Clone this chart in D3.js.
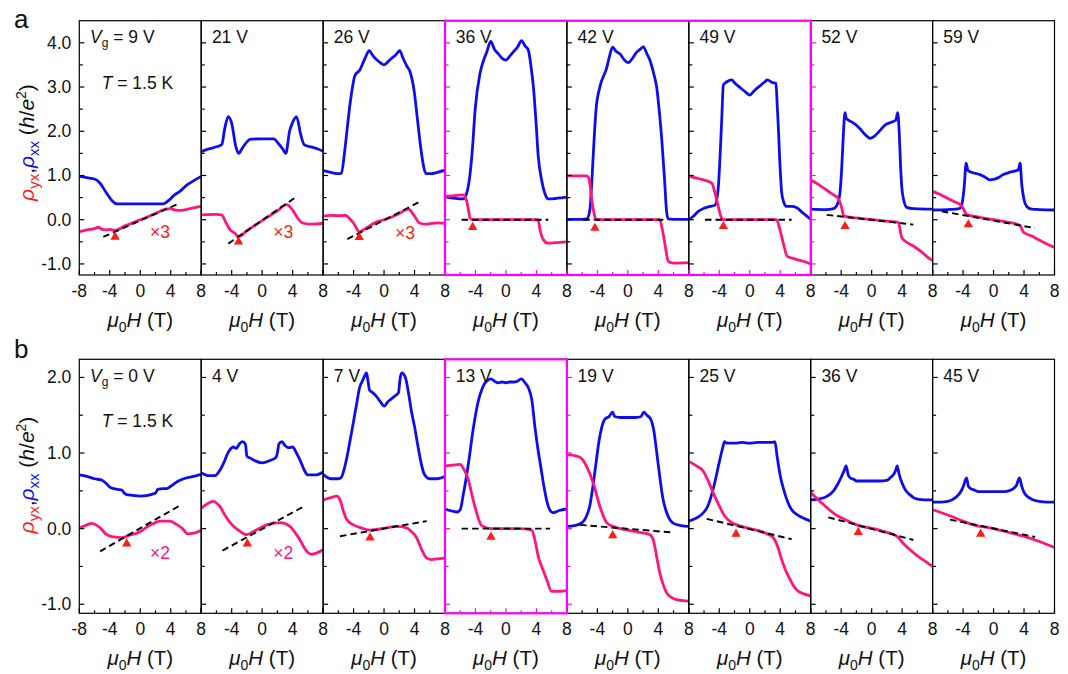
<!DOCTYPE html>
<html>
<head>
<meta charset="utf-8">
<script src="https://cdn.jsdelivr.net/npm/d3@7"></script>
<style>
  body { margin: 0; background: #fff; }
  svg { font-family: Arial, "Liberation Sans", sans-serif; }
</style>
</head>
<body>
<svg id="chart" width="1068" height="674"></svg>
<script>
// ---- data: [field (T), value (h/e^2)] ----
const fieldTicks = [-8, -4, 0, 4, 8];
const yTicksA = [-1, 0, 1, 2, 3, 4];
const yTicksB = [-1, 0, 1, 2];

const gatesA = ["9 V", "21 V", "26 V", "36 V", "42 V", "49 V", "52 V", "59 V"];
const gatesB = ["0 V", "4 V", "7 V", "13 V", "19 V", "25 V", "36 V", "45 V"];

// row a, rho_xx
const rhoXXa = [
  [[-8,0.98],[-7,0.95],[-6,0.92],[-5.3,0.83],[-4.5,0.62],[-3.8,0.45],[-3.3,0.37],[-3,0.36],[0,0.36],[3,0.36],[3.3,0.38],[3.9,0.46],[4.5,0.56],[5.2,0.64],[6.1,0.78],[7.2,0.9],[8,0.98]],
  [[-8,1.54],[-7,1.6],[-6,1.65],[-5.3,1.7],[-4.9,2.07],[-4.45,2.33],[-4,2.18],[-3.45,1.65],[-3.1,1.5],[-2.6,1.62],[-2,1.76],[-1.5,1.82],[0,1.83],[1.5,1.83],[2.1,1.73],[2.7,1.6],[3.1,1.5],[3.6,2.0],[4.0,2.2],[4.5,2.33],[5.1,1.9],[5.5,1.7],[6.5,1.64],[7.3,1.6],[8,1.55]],
  [[-8,1.11],[-7,1.07],[-6,1.04],[-5.6,1.05],[-5.2,1.5],[-4.9,1.96],[-4.4,2.7],[-3.8,3.27],[-3.2,3.38],[-2.5,3.65],[-1.95,3.82],[-1.5,3.72],[-1,3.62],[-0.5,3.55],[0,3.5],[0.5,3.57],[1,3.65],[1.5,3.72],[2.05,3.82],[2.5,3.65],[3,3.47],[3.4,3.35],[4,2.85],[4.3,2.4],[4.8,1.65],[5.2,1.2],[5.5,1.04],[6.2,1.04],[7,1.07],[8,1.12]],
  [[-8,0.51],[-7,0.49],[-5.6,0.47],[-5.15,0.6],[-4.75,0.98],[-4.4,1.6],[-4.05,2.48],[-3.4,3.31],[-2.9,3.62],[-2.5,3.8],[-2,4.03],[-1.5,3.85],[-1,3.75],[-0.5,3.65],[0,3.61],[0.5,3.7],[1,3.8],[1.5,3.9],[2.05,4.05],[2.5,3.93],[2.93,3.84],[3.3,3.45],[3.6,3.01],[3.95,2.2],[4.24,1.43],[4.68,0.9],[5.1,0.6],[5.56,0.47],[6.5,0.48],[7.5,0.5],[8,0.51]],
  [[-8,0.01],[-6,0.01],[-5.4,0.02],[-5.0,0.2],[-4.75,0.8],[-4.5,1.6],[-4.18,2.48],[-3.66,3.01],[-2.8,3.42],[-2.4,3.7],[-2.0,3.9],[-1.5,3.8],[-1.03,3.75],[-0.5,3.62],[0.06,3.55],[0.6,3.65],[1.16,3.79],[1.6,3.85],[2.03,3.91],[2.5,3.75],[2.91,3.6],[3.4,3.3],[3.78,3.0],[4.1,2.5],[4.44,1.84],[4.8,0.95],[5.1,0.16],[5.3,0.02],[6,0.01],[8,0.01]],
  [[-8,0.0],[-7.4,0.08],[-6.75,0.19],[-6,0.26],[-5.2,0.3],[-4.56,0.33],[-4.12,0.75],[-3.88,1.5],[-3.68,2.26],[-3.46,3.05],[-3,3.12],[-2.37,3.16],[-2,3.1],[-1.5,3.02],[-1,2.95],[-0.5,2.88],[0,2.82],[0.5,2.9],[1,2.98],[1.5,3.05],[2,3.12],[2.3,3.16],[3,3.1],[3.45,3.08],[3.6,2.6],[3.75,2.1],[3.95,1.3],[4.2,0.6],[4.5,0.38],[4.85,0.3],[5.5,0.3],[6.16,0.27],[7,0.15],[8,0.01]],
  [[-8,0.24],[-6,0.23],[-5,0.25],[-4.5,0.35],[-4.2,0.55],[-3.95,1.1],[-3.75,1.8],[-3.5,2.42],[-3.33,2.29],[-2.5,2.2],[-1.96,2.13],[-1.5,2.05],[-1,1.95],[-0.5,1.87],[-0.2,1.84],[0.3,1.88],[1,2.0],[1.75,2.14],[2.5,2.2],[3.16,2.25],[3.42,2.42],[3.63,1.93],[3.8,1.2],[3.95,0.75],[4.2,0.45],[4.6,0.28],[5.5,0.25],[7,0.24],[8,0.24]],
  [[-8,0.22],[-6,0.23],[-5,0.24],[-4.4,0.26],[-4.1,0.4],[-3.85,0.75],[-3.6,1.28],[-3.35,1.11],[-3,1.08],[-1.78,1.02],[-1,0.95],[-0.47,0.9],[0,0.91],[0.5,0.94],[1.28,1.02],[2.3,1.08],[3.25,1.13],[3.48,1.28],[3.7,0.8],[4.0,0.45],[4.35,0.3],[5,0.24],[6,0.23],[8,0.22]]
];

// row a, rho_yx
const rhoYXa = [
  [[-8,-0.27],[-7,-0.23],[-6,-0.2],[-5.5,-0.17],[-5,-0.22],[-4.5,-0.23],[-4,-0.22],[-3.3,-0.24],[-2,-0.14],[0,0.0],[2,0.14],[3.3,0.24],[4,0.25],[4.5,0.22],[5,0.21],[6,0.23],[7,0.27],[8,0.3]],
  [[-8,0.11],[-6,0.12],[-5.3,0.11],[-4.8,-0.05],[-4.2,-0.23],[-3.6,-0.3],[-3.1,-0.38],[-2,-0.25],[0,-0.02],[2,0.2],[3.2,0.34],[4,0.22],[4.6,0.05],[5.4,-0.08],[6.5,-0.1],[8,-0.08]],
  [[-8,0.08],[-7,0.1],[-6,0.09],[-5,0.1],[-4.5,0.02],[-4,-0.08],[-3.25,-0.27],[-2,-0.15],[-1,-0.05],[0,0.0],[1,0.06],[2,0.14],[3.2,0.24],[4,0.08],[4.7,-0.08],[5.6,-0.1],[7,-0.07],[8,-0.08]],
  [[-8,0.53],[-7,0.54],[-5.6,0.56],[-5.15,0.42],[-4.9,0.2],[-4.7,0.03],[-4.4,0.0],[0,0.0],[4.2,0.0],[4.5,-0.25],[4.9,-0.45],[5.5,-0.53],[6.5,-0.52],[8,-0.5]],
  [[-8,0.99],[-6,0.99],[-5.4,0.99],[-5.1,0.93],[-4.9,0.7],[-4.7,0.4],[-4.5,0.2],[-4.3,0.05],[-4.1,0.0],[0,0.0],[4.2,0.0],[4.5,-0.2],[4.85,-0.53],[5.1,-0.8],[5.35,-0.95],[6,-0.98],[8,-0.97]],
  [[-8,0.99],[-7.84,0.98],[-6.5,0.92],[-5.0,0.83],[-4.34,0.45],[-3.68,0.03],[-3.46,0.0],[0,0.0],[3.5,0.0],[4.0,-0.25],[4.4,-0.53],[4.93,-0.83],[6,-0.89],[7.03,-0.94],[8,-1.0]],
  [[-8,0.9],[-7,0.8],[-6,0.68],[-5,0.56],[-4.42,0.49],[-3.98,0.3],[-3.63,0.08],[-2,0.04],[0,0.0],[2,-0.03],[3.5,-0.06],[3.94,-0.4],[4.6,-0.51],[5.5,-0.6],[6.5,-0.72],[7.66,-0.89],[8,-0.92]],
  [[-8,0.64],[-7,0.57],[-6,0.48],[-5.28,0.42],[-4.18,0.31],[-3.52,0.12],[-2,0.06],[0,0.0],[2,-0.06],[3.48,-0.13],[3.91,-0.28],[5,-0.37],[6,-0.46],[7,-0.55],[8,-0.63]]
];

// row a, dashed linear fits [H1, v1, H2, v2] and triangle markers [H, v]
const fitA = [[-4.85,-0.39,5.0,0.36],[-4.44,-0.54,4.41,0.51],[-4.82,-0.44,4.72,0.41],[-5.82,0,5.56,0],[-5.85,0,5.1,0],[-5.87,0,5.5,0],[-5.9,0.11,5.47,-0.11],[-6.8,0.19,5.45,-0.19]];
const markA = [[-3.3,-0.39],[-3.1,-0.5],[-3.25,-0.4],[-4.37,-0.17],[-4.33,-0.19],[-3.46,-0.15],[-3.5,-0.15],[-3.31,-0.11]];
const factorA = [["×3",1.28,-0.27],["×3",1.47,-0.27],["×3",1.44,-0.3]];

// row b, rho_xx
const rhoXXb = [
  [[-8,0.71],[-7,0.69],[-6,0.66],[-5,0.64],[-4.5,0.6],[-4,0.55],[-3.5,0.53],[-3,0.52],[-2.4,0.51],[-2.1,0.47],[-1.8,0.45],[-1,0.44],[0,0.43],[1,0.44],[1.7,0.46],[2.0,0.47],[2.3,0.52],[3,0.53],[3.5,0.53],[4,0.56],[5,0.63],[6,0.67],[7,0.69],[8,0.72]],
  [[-8,0.74],[-7,0.7],[-6.2,0.7],[-5.5,0.78],[-5,0.88],[-4.6,0.98],[-4.1,1.06],[-3.8,1.08],[-3.4,1.06],[-3.0,1.12],[-2.6,1.15],[-2.2,1.12],[-2.0,0.96],[-1.5,0.93],[-1,0.9],[0,0.87],[1,0.9],[1.8,0.94],[2.0,1.0],[2.2,1.12],[2.6,1.15],[3.0,1.1],[3.5,1.07],[4.0,1.08],[4.5,1.0],[5.0,0.9],[5.5,0.78],[6.0,0.71],[7,0.71],[8,0.75]],
  [[-8,0.72],[-7.5,0.68],[-7,0.66],[-6,0.66],[-5.6,0.68],[-5.2,0.8],[-4.8,0.98],[-4.4,1.2],[-4,1.42],[-3.6,1.65],[-3.2,1.87],[-2.8,1.96],[-2.3,2.06],[-2.1,1.95],[-1.9,1.83],[-1.5,1.8],[-1,1.75],[-0.5,1.68],[0,1.62],[0.5,1.68],[1,1.72],[1.5,1.76],[1.9,1.8],[2.1,1.98],[2.3,2.06],[2.8,2.0],[3.2,1.8],[3.6,1.55],[4,1.35],[4.4,1.12],[4.8,0.9],[5.2,0.74],[5.6,0.68],[6,0.66],[7,0.66],[8,0.69]],
  [[-8,0.26],[-7,0.23],[-6.4,0.22],[-6,0.25],[-5.6,0.45],[-5.2,0.68],[-4.8,0.95],[-4.4,1.25],[-4,1.5],[-3.6,1.7],[-3.2,1.83],[-2.8,1.92],[-2.4,1.96],[-2,1.98],[-1.5,1.95],[-1,1.93],[-0.5,1.94],[0,1.93],[0.5,1.94],[1,1.94],[1.5,1.95],[2,1.98],[2.5,1.93],[3,1.85],[3.4,1.7],[3.8,1.35],[4.2,1.05],[4.6,0.8],[5,0.55],[5.4,0.35],[5.8,0.24],[6.2,0.21],[7,0.24],[8,0.26]],
  [[-8,0.03],[-7,0.04],[-6,0.08],[-5.5,0.15],[-5,0.3],[-4.6,0.55],[-4.2,0.85],[-3.8,1.15],[-3.4,1.35],[-3,1.45],[-2.5,1.48],[-2,1.54],[-1.7,1.48],[-1,1.47],[0,1.47],[1,1.47],[1.7,1.48],[2.1,1.54],[2.5,1.5],[3,1.45],[3.4,1.3],[3.8,1.0],[4.2,0.68],[4.6,0.4],[5,0.24],[5.5,0.12],[6,0.07],[7,0.04],[8,0.03]],
  [[-8,0.1],[-7,0.14],[-6,0.22],[-5.5,0.3],[-5,0.45],[-4.5,0.65],[-4,0.88],[-3.6,1.05],[-3.3,1.15],[-3,1.13],[-2,1.13],[-1,1.14],[0,1.13],[1,1.14],[2,1.14],[3,1.14],[3.3,1.15],[3.6,0.95],[4,0.7],[4.5,0.5],[5,0.35],[5.5,0.25],[6,0.2],[7,0.14],[8,0.1]],
  [[-8,0.38],[-7,0.39],[-6,0.42],[-5,0.5],[-4.5,0.58],[-4,0.68],[-3.6,0.77],[-3.35,0.83],[-3.1,0.72],[-2.8,0.67],[-2.3,0.65],[-2,0.63],[-1,0.63],[0,0.63],[1,0.63],[2,0.64],[2.5,0.68],[2.9,0.72],[3.15,0.77],[3.35,0.83],[3.6,0.72],[4,0.6],[4.5,0.5],[5,0.45],[5.5,0.41],[6,0.39],[7,0.38],[8,0.38]],
  [[-8,0.35],[-7,0.35],[-6,0.36],[-5,0.41],[-4.5,0.46],[-4,0.55],[-3.55,0.67],[-3.3,0.56],[-3,0.53],[-2.5,0.51],[-2,0.49],[0,0.49],[1.5,0.49],[2,0.5],[2.6,0.53],[3,0.57],[3.4,0.67],[3.7,0.56],[4,0.48],[4.5,0.42],[5,0.39],[6,0.36],[7,0.35],[8,0.35]]
];

// row b, rho_yx
const rhoYXb = [
  [[-8,0.01],[-7,0.05],[-6.4,0.07],[-5.8,0.05],[-5.27,0.01],[-4.4,-0.08],[-3.5,-0.11],[-2.43,-0.12],[-1.5,-0.09],[-0.03,-0.04],[1,0.03],[2,0.08],[2.6,0.1],[3.9,0.1],[4.7,0.06],[5.44,0.01],[6.3,-0.07],[7,-0.06],[8,-0.02]],
  [[-8,0.27],[-7,0.34],[-6.4,0.36],[-5.9,0.33],[-5.53,0.29],[-4.9,0.18],[-4.2,0.08],[-3,-0.03],[-2.0,-0.08],[-1,-0.03],[0.6,0.05],[2.34,0.08],[3.65,0.03],[4.3,-0.05],[4.97,-0.15],[5.5,-0.25],[6.06,-0.32],[6.5,-0.34],[7.2,-0.32],[8,-0.28]],
  [[-8,0.38],[-7,0.41],[-6.2,0.43],[-5.78,0.38],[-5.3,0.22],[-4.9,0.12],[-4.03,0.05],[-3,0.01],[-1.84,-0.02],[0.35,0.01],[1.66,0.03],[2.97,0.01],[3.6,-0.04],[4.28,-0.12],[4.9,-0.27],[5.6,-0.39],[6.25,-0.41],[7,-0.4],[8,-0.39]],
  [[-8,0.83],[-7,0.84],[-6.03,0.85],[-5.5,0.78],[-4.94,0.65],[-4.4,0.42],[-3.85,0.21],[-3.19,0.04],[-1.88,0.0],[0,0.0],[1.84,0.0],[3.38,-0.02],[3.8,-0.15],[4.24,-0.37],[4.8,-0.53],[5.34,-0.67],[6.0,-0.83],[7,-0.83],[8,-0.82]],
  [[-8,0.98],[-6.72,0.96],[-6,0.92],[-5.4,0.82],[-4.53,0.6],[-3.66,0.29],[-2.78,0.08],[-1.69,0.02],[0,-0.02],[1.5,-0.05],[2.91,-0.08],[3.34,-0.15],[3.8,-0.38],[4.18,-0.58],[4.6,-0.73],[5.1,-0.85],[5.7,-0.91],[6.4,-0.94],[8,-0.96]],
  [[-8,0.89],[-7,0.83],[-6.1,0.76],[-5.4,0.62],[-4.78,0.47],[-4,0.3],[-3.25,0.16],[-2.5,0.09],[-1.72,0.05],[0,0.0],[1.57,-0.04],[2.5,-0.08],[3.09,-0.12],[3.7,-0.25],[4.19,-0.41],[4.7,-0.55],[5.28,-0.67],[5.7,-0.75],[6.16,-0.81],[7,-0.86],[8,-0.89]],
  [[-8,0.48],[-7,0.38],[-6,0.29],[-5.56,0.25],[-4.5,0.17],[-3.5,0.12],[-1.96,0.05],[0.66,-0.01],[2,-0.05],[3.29,-0.1],[4.2,-0.2],[5.03,-0.28],[6,-0.36],[7,-0.43],[8,-0.5]],
  [[-8,0.25],[-6,0.18],[-4,0.1],[-2.65,0.05],[0,0.0],[2,-0.05],[3.91,-0.1],[6,-0.17],[8,-0.25]]
];

const fitB = [[-5.27,-0.3,5.44,0.32],[-5.2,-0.29,5.4,0.29],[-5.78,-0.1,5.6,0.1],[-5.82,0,5.78,0],[-6.28,0.05,5.75,-0.05],[-5.65,0.13,5.5,-0.14],[-5.69,0.15,5.47,-0.15],[-5.72,0.12,5.45,-0.11]];
const markB = [[-1.78,-0.2],[-1.95,-0.2],[-1.84,-0.12],[-1.97,-0.11],[-1.99,-0.09],[-1.8,-0.07],[-1.75,-0.05],[-1.69,-0.07]];
const factorB = [["×2",1.28,-0.32],["×2",1.47,-0.32]];

// ---- styling / layout ----
const blue = "#0d0df0", pink = "#ff1480", red = "#ff1a1a", magenta = "#ff00ff";
const left0 = 79.3, panelW = 121.9;

const svg = d3.select("#chart");

const rows = [
  { letter: "a", letterY: 28, top: 20.7, bottom: 275, domain: [-1.25, 4.5], yTicks: yTicksA, gates: gatesA,
    xx: rhoXXa, yx: rhoYXa, fit: fitA, mark: markA, factor: factorA, factorColor: red,
    boxFrom: 3, boxTo: 5, titleY: 142.5 },
  { letter: "b", letterY: 358, top: 359.3, bottom: 613.3, domain: [-1.12, 2.24], yTicks: yTicksB, gates: gatesB,
    xx: rhoXXb, yx: rhoYXb, fit: fitB, mark: markB, factor: factorB, factorColor: pink,
    boxFrom: 3, boxTo: 3, titleY: 475 }
];

rows.forEach((r, ri) => drawRow(r, ri));

function drawRow(r, ri) {
  const y = d3.scaleLinear().domain(r.domain).range([r.bottom, r.top]);
  const minorY = d3.range(r.yTicks[0], r.yTicks[r.yTicks.length - 1] + 0.01, 0.5);

  for (let i = 0; i < 8; i++) {
    const x0 = left0 + i * panelW;
    const x = d3.scaleLinear().domain([-8, 8]).range([x0, x0 + panelW]);
    const inBox = i >= r.boxFrom && i <= r.boxTo;
    const leftMagenta = i === r.boxFrom || i === r.boxTo + 1;
    const g = svg.append("g");

    // clip for the curves
    const clipId = `clip-${ri}-${i}`;
    g.append("clipPath").attr("id", clipId)
      .append("rect").attr("x", x0).attr("y", r.top)
      .attr("width", panelW).attr("height", r.bottom - r.top);

    const line = d3.line().x(d => x(d[0])).y(d => y(d[1])).curve(d3.curveMonotoneX);
    const plot = g.append("g").attr("clip-path", `url(#${clipId})`);

    plot.append("path").attr("d", line(r.xx[i]))
      .attr("fill", "none").attr("stroke", blue).attr("stroke-width", 2.8)
      .attr("stroke-linejoin", "round");
    plot.append("path").attr("d", line(r.yx[i]))
      .attr("fill", "none").attr("stroke", pink).attr("stroke-width", 2.8)
      .attr("stroke-linejoin", "round");

    const f = r.fit[i];
    plot.append("line")
      .attr("x1", x(f[0])).attr("y1", y(f[1])).attr("x2", x(f[2])).attr("y2", y(f[3]))
      .attr("stroke", "#000").attr("stroke-width", 1.9).attr("stroke-dasharray", "6.5,4");

    const m = r.mark[i];
    plot.append("path")
      .attr("d", d3.symbol().type(d3.symbolTriangle).size(38)())
      .attr("transform", `translate(${x(m[0])},${y(m[1])})`)
      .attr("fill", red);

    // frame
    g.append("rect").attr("x", x0).attr("y", r.top)
      .attr("width", panelW).attr("height", r.bottom - r.top)
      .attr("fill", "none").attr("stroke", "#000").attr("stroke-width", 1.2);

    // y ticks (inward, on the left edge)
    const yTickColor = leftMagenta ? magenta : "#000";
    minorY.forEach(v => {
      const major = r.yTicks.some(t => Math.abs(t - v) < 1e-6);
      g.append("line").attr("x1", x0).attr("x2", x0 + (major ? 5 : 3.5))
        .attr("y1", y(v)).attr("y2", y(v))
        .attr("stroke", yTickColor).attr("stroke-width", 1.2);
    });

    // x ticks (inward, on the bottom edge)
    const xTickColor = inBox ? magenta : "#000";
    d3.range(-8, 8.01, 2).forEach(h => {
      const major = fieldTicks.includes(h);
      g.append("line").attr("x1", x(h)).attr("x2", x(h))
        .attr("y1", r.bottom).attr("y2", r.bottom - (major ? 5 : 3))
        .attr("stroke", xTickColor).attr("stroke-width", 1.2);
    });

    // x tick labels
    fieldTicks.forEach(h => {
      if (h === -8 && i > 0) return;
      svg.append("text").attr("x", x(h)).attr("y", r.bottom + 22)
        .attr("text-anchor", "middle").attr("font-size", 17.5).attr("fill", "#111")
        .text(h);
    });

    // x axis title
    const xt = svg.append("text").attr("x", x(0)).attr("y", r.bottom + 52)
      .attr("text-anchor", "middle").attr("font-size", 20.5).attr("fill", "#111");
    xt.append("tspan").attr("font-style", "italic").text("μ");
    xt.append("tspan").attr("font-size", 14).attr("dy", 5).text("0");
    xt.append("tspan").attr("dy", -5).attr("font-style", "italic").text("H");
    xt.append("tspan").text(" (T)");

    // gate voltage label
    const lab = svg.append("text").attr("x", x0 + 10.7).attr("y", r.top + 22.6)
      .attr("font-size", 17.5).attr("fill", "#111");
    if (i === 0) {
      lab.append("tspan").attr("font-style", "italic").text("V");
      lab.append("tspan").attr("font-size", 12).attr("dy", 4).text("g");
      lab.append("tspan").attr("dy", -4).text(" = " + r.gates[0]);
      const tl = svg.append("text").attr("x", x0 + 22.4).attr("y", r.top + 68)
        .attr("font-size", 17.5).attr("fill", "#111");
      tl.append("tspan").attr("font-style", "italic").text("T");
      tl.append("tspan").text(" = 1.5 K");
    } else {
      lab.text(r.gates[i]);
    }

    // scaling factor
    if (r.factor[i]) {
      const fa = r.factor[i];
      svg.append("text").attr("x", x(fa[1])).attr("y", y(fa[2]))
        .attr("dominant-baseline", "central")
        .attr("font-size", 17.5).attr("fill", r.factorColor).text(fa[0]);
    }
  }

  // y tick labels
  r.yTicks.forEach(v => {
    svg.append("text").attr("x", left0 - 8).attr("y", y(v))
      .attr("text-anchor", "end").attr("dominant-baseline", "central")
      .attr("font-size", 17.5).attr("fill", "#111").text(v.toFixed(1));
  });

  // magenta highlight box
  const bx0 = left0 + r.boxFrom * panelW;
  const bx1 = left0 + (r.boxTo + 1) * panelW;
  svg.append("rect").attr("x", bx0).attr("y", r.top)
    .attr("width", bx1 - bx0).attr("height", r.bottom - r.top)
    .attr("fill", "none").attr("stroke", magenta).attr("stroke-width", 2.2);

  // y axis title
  const yt = svg.append("text")
    .attr("transform", `translate(34,${r.titleY}) rotate(-90)`)
    .attr("text-anchor", "middle").attr("font-size", 21).attr("fill", "#111");
  yt.append("tspan").attr("fill", red).attr("font-style", "italic").text("ρ");
  yt.append("tspan").attr("fill", red).attr("font-size", 15).attr("dy", 5).text("yx");
  yt.append("tspan").attr("dy", -5).text(",");
  yt.append("tspan").attr("fill", blue).attr("font-style", "italic").text("ρ");
  yt.append("tspan").attr("fill", blue).attr("font-size", 15).attr("dy", 5).text("xx");
  yt.append("tspan").attr("dy", -5).text(" (");
  yt.append("tspan").attr("font-style", "italic").text("h");
  yt.append("tspan").text("/");
  yt.append("tspan").attr("font-style", "italic").text("e");
  yt.append("tspan").attr("font-size", 14).attr("dy", -8).text("2");
  yt.append("tspan").attr("dy", 8).text(")");

  // panel letter
  svg.append("text").attr("x", 14).attr("y", r.letterY)
    .attr("font-size", 26).attr("fill", "#111").text(r.letter);
}
</script>
</body>
</html>
